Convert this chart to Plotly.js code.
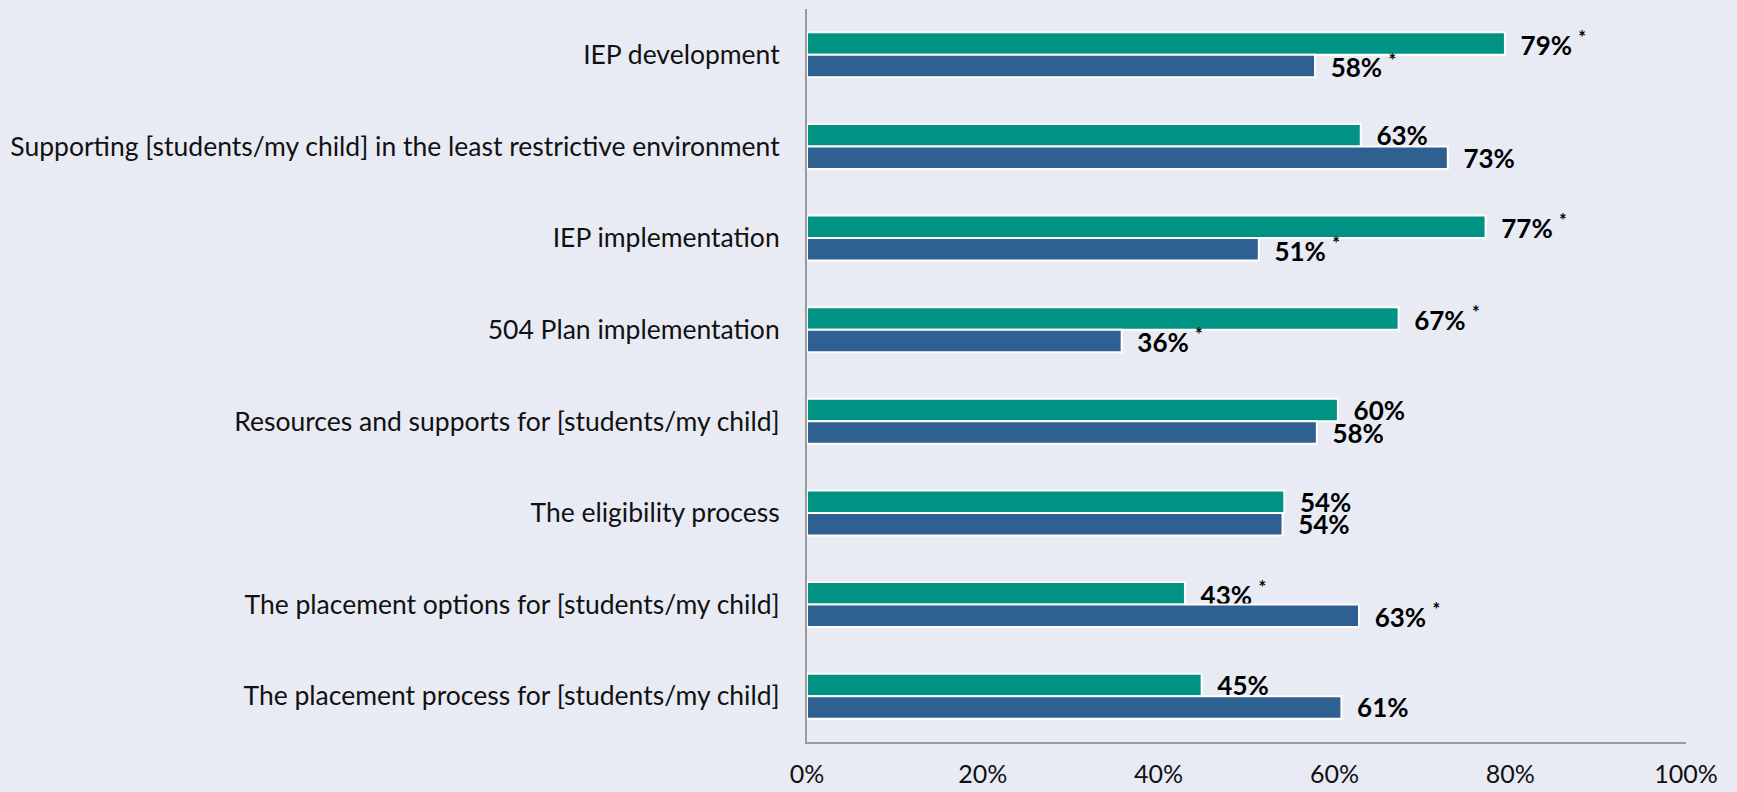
<!DOCTYPE html>
<html>
<head>
<meta charset="utf-8">
<script src="https://cdn.plot.ly/plotly-3.0.1.min.js"></script>
<style>
html,body{margin:0;padding:0;background:#E8EBF4;}
#chart{width:1737px;height:792px;}
</style>
</head>
<body>
<div id="chart"></div>
<script>
const categories = [
  "IEP development",
  "Supporting [students/my child] in the least restrictive environment",
  "IEP implementation",
  "504 Plan implementation",
  "Resources and supports for [students/my child]",
  "The eligibility process",
  "The placement options for [students/my child]",
  "The placement process for [students/my child]"
];
// bar lengths (percent)
const greenValues = [79.4, 63.0, 77.2, 67.3, 60.4, 54.3, 43.0, 44.9];
const blueValues  = [57.8, 72.9, 51.4, 35.8, 58.0, 54.1, 62.8, 60.8];
// printed labels
const greenLabels = [79, 63, 77, 67, 60, 54, 43, 45];
const blueLabels  = [58, 73, 51, 36, 58, 54, 63, 61];
const greenSig = [true, false, true, true, false, false, true, false];
const blueSig  = [true, false, true, true, false, false, true, false];
const xTickVals = [0, 20, 40, 60, 80, 100];
const xTickText = ["0%", "20%", "40%", "60%", "80%", "100%"];

function labels(vals, sig) {
  return vals.map((v, i) => "\u00a0\u00a0" + v + "%" + (sig[i] ? " <sup>*</sup>" : ""));
}

const common = {
  type: "bar",
  orientation: "h",
  y: categories,
  textposition: "outside",
  cliponaxis: false,
  constraintext: "none",
  textfont: {family: "Lato, sans-serif", size: 26, color: "#000000", weight: "bold"},
  hoverinfo: "skip"
};

const traces = [
  Object.assign({}, common, {
    x: greenValues,
    text: labels(greenLabels, greenSig),
    marker: {color: "#009384", line: {color: "#FFFFFF", width: 2}}
  }),
  Object.assign({}, common, {
    x: blueValues,
    text: labels(blueLabels, blueSig),
    marker: {color: "#2E6091", line: {color: "#FFFFFF", width: 2}}
  })
];

const layout = {
  width: 1737,
  height: 792,
  paper_bgcolor: "#E8EBF4",
  plot_bgcolor: "#E8EBF4",
  margin: {l: 807, r: 51, t: 9, b: 50, pad: 0},
  barmode: "group",
  bargap: 0.51,
  bargroupgap: 0,
  showlegend: false,
  font: {family: "Lato, sans-serif", size: 24, color: "#111111"},
  xaxis: {
    range: [0, 100],
    tickvals: xTickVals,
    ticktext: xTickText,
    showgrid: false,
    zeroline: false,
    showline: true,
    linecolor: "#9A9A9A",
    linewidth: 2,
    ticks: "outside",
    ticklen: 9,
    tickcolor: "rgba(0,0,0,0)",
    tickfont: {family: "Lato, sans-serif", size: 25, color: "#111111"},
    fixedrange: true
  },
  yaxis: {
    autorange: "reversed",
    showgrid: false,
    zeroline: false,
    showline: true,
    linecolor: "#9A9A9A",
    linewidth: 2,
    ticks: "outside",
    ticklen: 20,
    tickcolor: "rgba(0,0,0,0)",
    tickfont: {family: "Lato, sans-serif", size: 26.5, color: "#111111"},
    fixedrange: true
  }
};

Plotly.newPlot("chart", traces, layout, {displayModeBar: false, staticPlot: true});
</script>
</body>
</html>
